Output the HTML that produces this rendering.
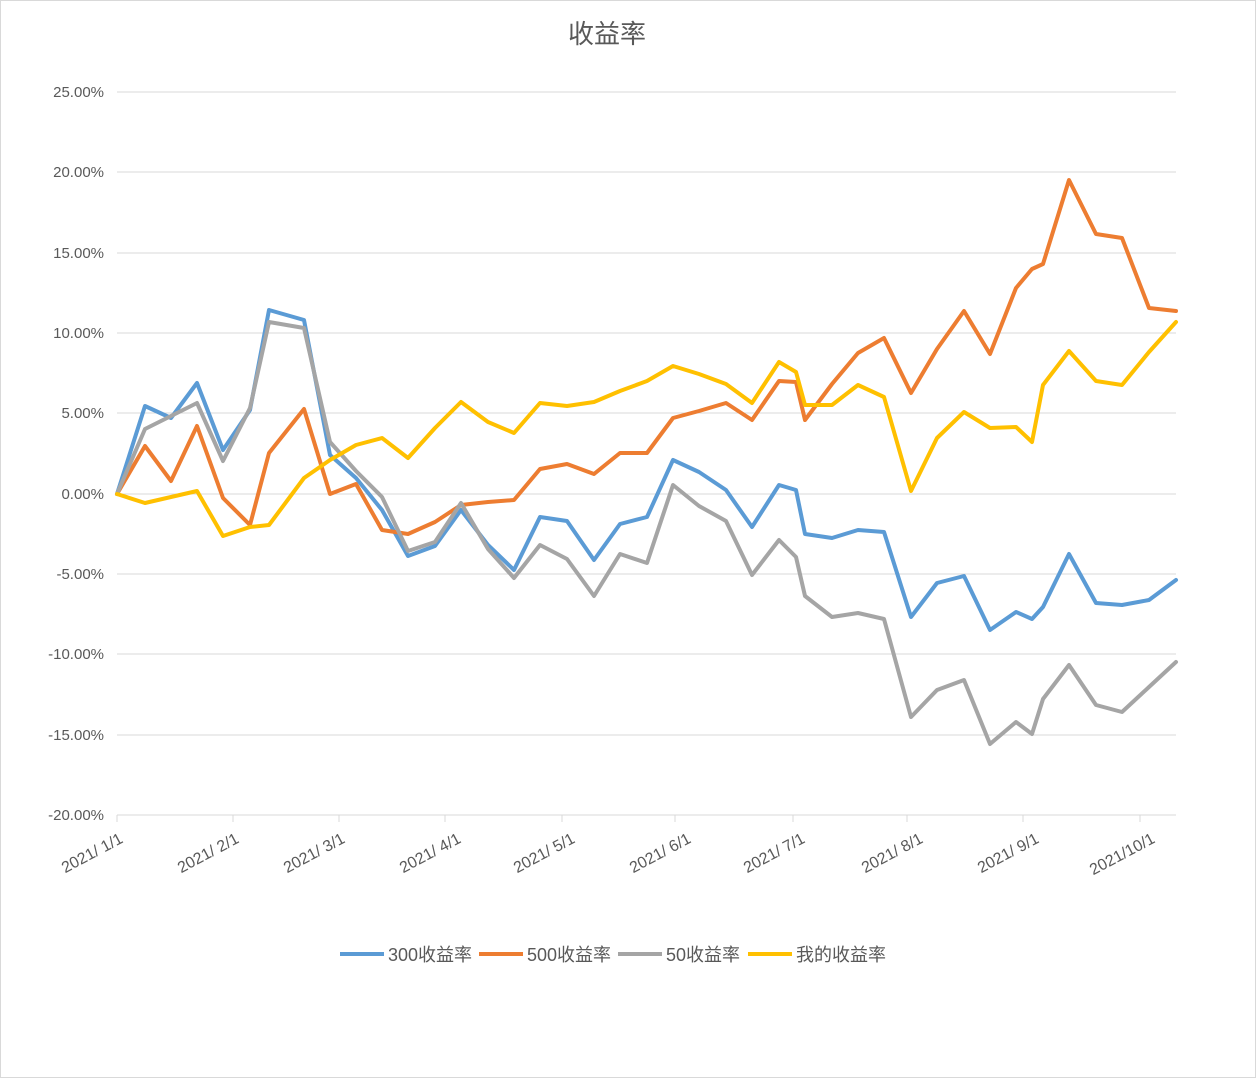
<!DOCTYPE html>
<html><head><meta charset="utf-8"><style>
html,body{margin:0;padding:0;background:#fff}
svg{display:block}
text{font-family:"Liberation Sans","Noto Sans CJK SC",sans-serif;fill:#595959}
</style></head><body>
<svg width="1256" height="1078" viewBox="0 0 1256 1078" xmlns="http://www.w3.org/2000/svg">
<rect x="0.5" y="0.5" width="1255" height="1077" fill="#fff" stroke="#d9d9d9"/>
<text x="607" y="43" font-size="26" text-anchor="middle">收益率</text>
<g stroke="#d9d9d9" stroke-width="1">
<line x1="117" x2="1176" y1="92" y2="92"/><line x1="117" x2="1176" y1="172" y2="172"/>
<line x1="117" x2="1176" y1="253" y2="253"/><line x1="117" x2="1176" y1="333" y2="333"/>
<line x1="117" x2="1176" y1="413" y2="413"/><line x1="117" x2="1176" y1="494" y2="494"/>
<line x1="117" x2="1176" y1="574" y2="574"/><line x1="117" x2="1176" y1="654" y2="654"/>
<line x1="117" x2="1176" y1="735" y2="735"/><line x1="117" x2="1176" y1="815" y2="815"/>
<line x1="117" x2="117" y1="815" y2="822"/><line x1="233" x2="233" y1="815" y2="822"/>
<line x1="339" x2="339" y1="815" y2="822"/><line x1="445" x2="445" y1="815" y2="822"/>
<line x1="562" x2="562" y1="815" y2="822"/><line x1="675" x2="675" y1="815" y2="822"/>
<line x1="793" x2="793" y1="815" y2="822"/><line x1="907" x2="907" y1="815" y2="822"/>
<line x1="1023" x2="1023" y1="815" y2="822"/><line x1="1140" x2="1140" y1="815" y2="822"/>
</g>
<g font-size="15" text-anchor="end">
<text x="104" y="97">25.00%</text><text x="104" y="177">20.00%</text><text x="104" y="258">15.00%</text>
<text x="104" y="338">10.00%</text><text x="104" y="418">5.00%</text><text x="104" y="499">0.00%</text>
<text x="104" y="579">-5.00%</text><text x="104" y="659">-10.00%</text><text x="104" y="740">-15.00%</text>
<text x="104" y="820">-20.00%</text>
</g>
<g font-size="16" text-anchor="end">
<text transform="translate(124,842) rotate(-28)">2021/ 1/1</text>
<text transform="translate(240,842) rotate(-28)">2021/ 2/1</text>
<text transform="translate(346,842) rotate(-28)">2021/ 3/1</text>
<text transform="translate(462,842) rotate(-28)">2021/ 4/1</text>
<text transform="translate(576,842) rotate(-28)">2021/ 5/1</text>
<text transform="translate(692,842) rotate(-28)">2021/ 6/1</text>
<text transform="translate(806,842) rotate(-28)">2021/ 7/1</text>
<text transform="translate(924,842) rotate(-28)">2021/ 8/1</text>
<text transform="translate(1040,842) rotate(-28)">2021/ 9/1</text>
<text transform="translate(1156,842) rotate(-28)">2021/10/1</text>
</g>
<g fill="none" stroke-width="4" stroke-linejoin="round" stroke-linecap="round">
<polyline stroke="#5b9bd5" points="117,494 145,406 171,418 197,383 223,450 250,410 269,310 304,320 330,455 356,478 382,510 408,556 435,546 461,510 488,545 514,570 540,517 567,521 594,560 620,524 647,517 673,460 699,472 726,490 752,527 779,485 796,490 805,534 832,538 858,530 884,532 911,617 937,583 964,576 990,630 1016,612 1032,619 1043,607 1069,554 1096,603 1122,605 1149,600 1176,580"/>
<polyline stroke="#ed7d31" points="117,494 145,446 171,481 197,426 223,498 250,525 269,453 304,409 330,494 356,484 382,530 408,534 435,522 461,505 488,502 514,500 540,469 567,464 594,474 620,453 647,453 673,418 699,411 726,403 752,420 779,381 796,382 805,420 832,384 858,353 884,338 911,393 937,349 964,311 990,354 1016,288 1032,269 1043,264 1069,180 1096,234 1122,238 1149,308 1176,311"/>
<polyline stroke="#a5a5a5" points="117,494 145,429 171,416 197,403 223,461 250,408 269,322 304,328 330,442 356,471 382,497 408,551 435,542 461,503 488,549 514,578 540,545 567,559 594,596 620,554 647,563 673,485 699,506 726,521 752,575 779,540 796,557 805,596 832,617 858,613 884,619 911,717 937,690 964,680 990,744 1016,722 1032,734 1043,699 1069,665 1096,705 1122,712 1149,687 1176,662"/>
<polyline stroke="#ffc000" points="117,494 145,503 171,497 197,491 223,536 250,527 269,525 304,478 330,460 356,445 382,438 408,458 435,428 461,402 488,422 514,433 540,403 567,406 594,402 620,391 647,381 673,366 699,374 726,384 752,403 779,362 796,372 805,405 832,405 858,385 884,397 911,491 937,438 964,412 990,428 1016,427 1032,442 1043,385 1069,351 1096,381 1122,385 1149,352 1176,322"/>
</g>
<g stroke-width="4">
<line x1="340" x2="384" y1="954" y2="954" stroke="#5b9bd5"/>
<line x1="479" x2="523" y1="954" y2="954" stroke="#ed7d31"/>
<line x1="618" x2="662" y1="954" y2="954" stroke="#a5a5a5"/>
<line x1="748" x2="792" y1="954" y2="954" stroke="#ffc000"/>
</g>
<g font-size="18">
<text x="388" y="961">300收益率</text>
<text x="527" y="961">500收益率</text>
<text x="666" y="961">50收益率</text>
<text x="796" y="961">我的收益率</text>
</g>
</svg>
</body></html>
